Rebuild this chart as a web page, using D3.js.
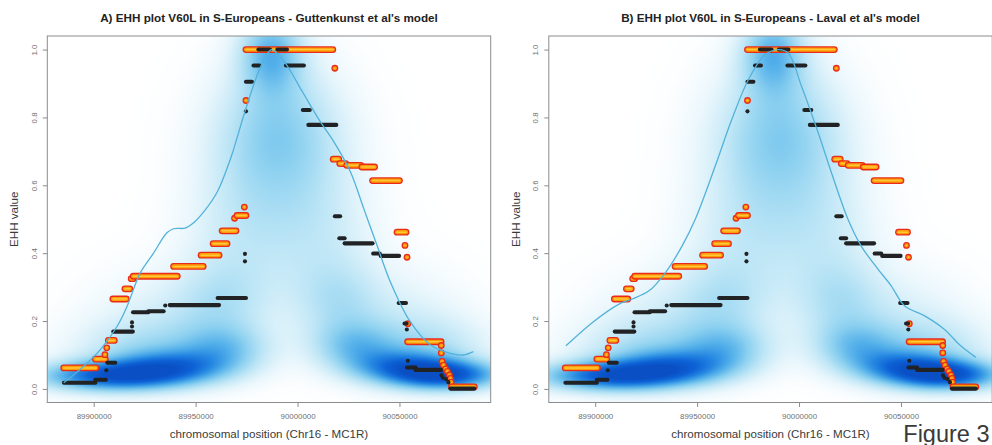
<!DOCTYPE html>
<html><head><meta charset="utf-8">
<script src="https://cdn.jsdelivr.net/npm/d3@7"></script>
<style>body{margin:0;background:#fff;} svg{display:block;}</style>
</head><body>
<svg id="chart" width="992" height="445"></svg>
<script>
// ---------------- data ----------------
const xTicks = [89900000, 89950000, 90000000, 90050000];
const yTicks = [0, 0.2, 0.4, 0.6, 0.8, 1.0];

// derived-allele EHH (red/orange), runs of SNPs sharing one value: start, end, value
const redStart = [89885300,89900800,89905500,89906400,89907200,89909400,89915300,89918400,89919400,89939200,89952700,89958600,89963000,89969100,89970300,89973900,89974700,89974700,90018300,90017500,90020700,90024100,90031500,90036800,90048800,90052700,90053700,90054100,90054000,90070500,90070500,90070900,90071600,90072600,90073500,90074500,90075000,90075300,90075500];
const redEnd   = [89901100,89905700,89905500,89906400,89910100,89916000,89917700,89919400,89941000,89953700,89961500,89965400,89969800,89969100,89974700,89973900,89974700,90017300,90018300,90020200,90023600,90031000,90037800,90050000,90053200,90052700,90053700,90054100,90070400,90070500,90070500,90070900,90071600,90072600,90073500,90074500,90075000,90075300,90086700];
const redEHH   = [0.062,0.088,0.101,0.121,0.143,0.265,0.295,0.325,0.332,0.361,0.394,0.428,0.466,0.503,0.511,0.536,0.85,1.0,0.945,0.677,0.664,0.659,0.654,0.614,0.462,0.423,0.388,0.192,0.139,0.128,0.106,0.081,0.070,0.059,0.052,0.041,0.031,0.020,0.006];

// ancestral-allele EHH (black)
const blackStart = [89885400,89900800,89906200,89906700,89909600,89918800,89918800,89919300,89926800,89935100,89937300,89960800,89974200,89974200,89974700,89974700,89978400,89980800,89990100,89994300,90002600,90005300,90018300,90020500,90023100,90037100,90040800,90049600,90052500,90053600,90054100,90053700,90057900,90070600,90071300,90072800,90074000,90075000];
const blackEnd   = [89900800,89906000,89906200,89910600,89919200,89918800,89918800,89926800,89934300,89935100,89961500,89974700,89974200,89974200,89974700,89977600,89981300,89986500,89994800,90003100,90006000,90019000,90020900,90023100,90036800,90040300,90049800,90053200,90053500,90053600,90054100,90057900,90070400,90070600,90071300,90072800,90074000,90086700];
const blackEHH   = [0.018,0.027,0.055,0.077,0.169,0.184,0.196,0.226,0.229,0.246,0.247,0.268,0.376,0.398,0.818,0.905,0.953,1.0,1.0,0.953,0.822,0.778,0.509,0.444,0.429,0.399,0.392,0.253,0.193,0.175,0.083,0.063,0.056,0.040,0.033,0.029,0.020,0.001];

// simulated mean EHH curve, model A (Guttenkunst)
const fitPosA = [89885320,89895110,89903280,89911450,89916340,89922850,89929350,89935910,89939140,89944860,89948920,89954160,89960670,89967220,89973730,89980230,89984830,89987280,89989730,89994620,90002740,90010910,90017760,90025930,90032440,90038940,90045500,90055290,90065070,90074860,90081360,90086250];
const fitEHHA = [0.018,0.067,0.116,0.184,0.243,0.342,0.400,0.460,0.472,0.474,0.489,0.523,0.581,0.680,0.808,0.925,0.985,1.0,0.990,0.955,0.872,0.790,0.729,0.640,0.532,0.424,0.316,0.198,0.130,0.105,0.100,0.110];
// model B (Laval)
const fitPosB = [89885650,89898700,89911700,89918200,89926400,89934500,89942600,89949100,89958900,89967000,89975200,89983300,89989800,89994700,90001200,90009400,90015900,90024000,90030500,90038700,90045200,90051700,90061400,90071200,90079300,90086700];
const fitEHHB = [0.127,0.196,0.250,0.265,0.289,0.343,0.421,0.500,0.657,0.794,0.912,0.985,1.0,0.990,0.892,0.755,0.637,0.500,0.421,0.353,0.304,0.245,0.216,0.176,0.127,0.093];

// smoothed density of simulated EHH values (blob components)
const densPos    = [89986940,89990360,89976660,89971770,89962970,90003570,90010910,90019720,89908170,89939970,89964430,89922850,90073530,90050050,90028030,90064730,89932500,90052500];
const densEHH    = [0.994,0.794,0.705,0.440,0.248,0.705,0.440,0.248,0.036,0.063,0.116,0.110,0.039,0.063,0.122,0.116,0.205,0.205];
const densSdPos  = [10760,19570,19570,19570,17120,19570,19570,15660,24460,19570,15660,24460,18590,17120,14680,22020,24460,22020];
const densSdEHH  = [0.0825,0.147,0.147,0.133,0.0884,0.147,0.133,0.0884,0.031,0.0354,0.050,0.0648,0.031,0.0354,0.050,0.0648,0.103,0.103];
const densWeight = [0.45,0.18,0.16,0.16,0.20,0.16,0.16,0.22,0.80,0.50,0.33,0.22,0.80,0.48,0.33,0.22,0.12,0.12];

const titles = ["A) EHH plot V60L in S-Europeans - Guttenkunst et al's model",
                "B) EHH plot V60L in S-Europeans - Laval et al's model"];
const xLabel = "chromosomal position (Chr16 - MC1R)";
const yLabel = "EHH value";

// ---------------- layout ----------------
const FONT = "'Liberation Sans', Arial, Helvetica, sans-serif";
const svg = d3.select("#chart");
const plotW = 443.4, pTop = 36, pBottom = 402.5;
const panels = [
  {left: 47.3, title: titles[0], fitPos: fitPosA, fitEHH: fitEHHA, yLabX: 18, yTickX: 36.5},
  {left: 548.8, title: titles[1], fitPos: fitPosB, fitEHH: fitEHHB, yLabX: 520, yTickX: 538}
];

// R-style 4% axis extension
const allPos = redStart.concat(redEnd, blackStart, blackEnd);
const [pMin, pMax] = d3.extent(allPos);
const pPad = (pMax - pMin) * 0.04;
const yPad = 0.04;

const ramp = d3.scaleLinear()
  .domain([0, 0.1, 0.25, 0.4, 0.55, 0.7, 0.85, 1])
  .range(["#ffffff", "#e8f6fc", "#bee6f6", "#8dd1f0", "#55b1ea", "#2688e2", "#0d62d6", "#0a4fc4"])
  .interpolate(d3.interpolateRgb).clamp(true);

panels.forEach(P => {
  const x = d3.scaleLinear().domain([pMin - pPad, pMax + pPad]).range([P.left, P.left + plotW]);
  const y = d3.scaleLinear().domain([-yPad, 1 + yPad]).range([pBottom, pTop]);
  const g = svg.append("g");

  // density image
  const W = Math.round(plotW), H = Math.round(pBottom - pTop);
  const cv = document.createElement("canvas");
  cv.width = W; cv.height = H;
  const ctx = cv.getContext("2d");
  const img = ctx.createImageData(W, H);
  for (let j = 0; j < H; j++) {
    const yv = y.invert(pTop + j + 0.5);
    for (let i = 0; i < W; i++) {
      const xv = x.invert(P.left + i + 0.5);
      let s = 0;
      for (let k = 0; k < densPos.length; k++) {
        const dx = (xv - densPos[k]) / densSdPos[k];
        const dy = (yv - densEHH[k]) / densSdEHH[k];
        s += densWeight[k] * Math.exp(-0.5 * (dx * dx + dy * dy));
      }
      const c = d3.rgb(ramp(s));
      const o = (j * W + i) * 4;
      img.data[o] = c.r; img.data[o + 1] = c.g; img.data[o + 2] = c.b; img.data[o + 3] = 255;
    }
  }
  ctx.putImageData(img, 0, 0);
  g.append("image").attr("href", cv.toDataURL())
    .attr("x", P.left).attr("y", pTop).attr("width", plotW).attr("height", pBottom - pTop)
    .attr("preserveAspectRatio", "none");

  // red (derived) runs
  const red = g.append("g");
  d3.range(redStart.length).forEach(i => {
    const gg = red.append("g");
    [["#e92b1c", 6.8], ["#ff9c05", 4.2], ["#ffc83a", 1.5]].forEach(([c, w]) => {
      gg.append("line")
        .attr("x1", x(redStart[i])).attr("x2", x(redEnd[i]) + 0.01)
        .attr("y1", y(redEHH[i])).attr("y2", y(redEHH[i]))
        .attr("stroke", c).attr("stroke-width", w).attr("stroke-linecap", "round");
    });
  });
  // black (ancestral) runs
  g.append("g").selectAll("line").data(d3.range(blackStart.length)).join("line")
    .attr("x1", i => x(blackStart[i])).attr("x2", i => x(blackEnd[i]) + 0.01)
    .attr("y1", i => y(blackEHH[i])).attr("y2", i => y(blackEHH[i]))
    .attr("stroke", "#202224").attr("stroke-width", 4.1).attr("stroke-linecap", "round");

  // fitted curve
  const line = d3.line().x(i => x(P.fitPos[i])).y(i => y(P.fitEHH[i])).curve(d3.curveCatmullRom.alpha(0.5));
  g.append("path").attr("d", line(d3.range(P.fitPos.length)))
    .attr("fill", "none").attr("stroke", "#52b2da").attr("stroke-width", 1.3);

  // box
  g.append("rect").attr("x", P.left).attr("y", pTop).attr("width", plotW).attr("height", pBottom - pTop)
    .attr("fill", "none").attr("stroke", "#8c8c8c").attr("stroke-width", 1);

  // x axis ticks
  const xa = d3.axisBottom(x).tickValues(xTicks).tickSize(4.5).tickFormat(d3.format("d"));
  const xg = g.append("g").attr("transform", `translate(0,${pBottom})`).call(xa);
  xg.select(".domain").remove();
  xg.selectAll(".tick line").attr("stroke", "#8c8c8c");
  xg.selectAll(".tick text").attr("fill", "#707070").attr("font-size", 7.9).attr("font-family", FONT)
    .attr("dy", null).attr("y", 16.5);

  // y axis ticks
  const ya = d3.axisLeft(y).tickValues(yTicks).tickSize(4.5).tickFormat(d3.format(".1f"));
  const yg = g.append("g").attr("transform", `translate(${P.left},0)`).call(ya);
  yg.select(".domain").remove();
  yg.selectAll(".tick line").attr("stroke", "#8c8c8c");
  yg.selectAll(".tick text").remove();
  yg.selectAll(".tick").append("text")
    .attr("transform", `translate(${P.yTickX - P.left},0) rotate(-90)`)
    .attr("text-anchor", "middle").attr("fill", "#707070")
    .attr("font-size", 7.9).attr("font-family", FONT)
    .text(d => d3.format(".1f")(d));

  // titles and labels
  const cx = P.left + plotW / 2;
  svg.append("text").attr("x", cx).attr("y", 21.5).attr("text-anchor", "middle")
    .attr("font-family", FONT).attr("font-weight", "bold").attr("font-size", 11.7)
    .attr("fill", "#222").text(P.title);
  svg.append("text").attr("x", cx).attr("y", 438.3).attr("text-anchor", "middle")
    .attr("font-family", FONT).attr("font-size", 11.6).attr("fill", "#3a3a3a").text(xLabel);
  svg.append("text").attr("transform", `translate(${P.yLabX},${(pTop + pBottom) / 2}) rotate(-90)`)
    .attr("text-anchor", "middle").attr("font-family", FONT).attr("font-size", 11.6)
    .attr("fill", "#3a3a3a").text(yLabel);
});

svg.append("text").attr("x", 903.3).attr("y", 441.5)
  .attr("font-family", FONT).attr("font-size", 23.5).attr("fill", "#3a3a3a").text("Figure 3");
</script>
</body></html>
